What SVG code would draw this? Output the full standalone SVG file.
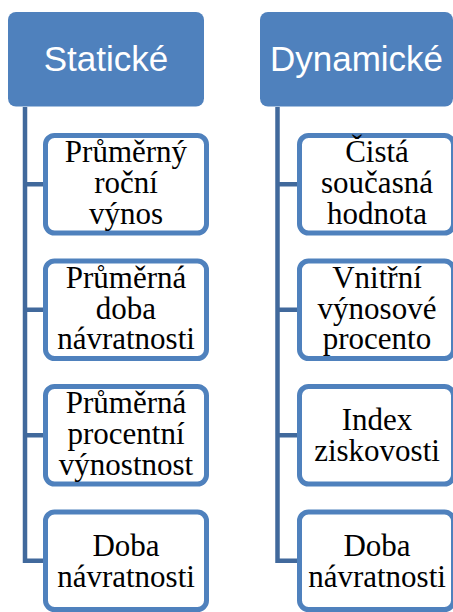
<svg xmlns="http://www.w3.org/2000/svg" width="453" height="612" viewBox="0 0 453 612">
<style>
.hdr{fill:#4F81BD;}
.hdrt{fill:#FFFFFF;font-family:"Liberation Sans",Arial,sans-serif;font-size:35px;text-anchor:middle;}
.box{fill:#FFFFFF;stroke:#4F81BD;stroke-width:5;}
.bt{fill:#000000;font-family:'Liberation Serif','DejaVu Serif',serif;font-size:31px;font-weight:normal;text-anchor:middle;}
.con{fill:none;stroke:#41699C;stroke-width:4.5;stroke-linejoin:miter;}
</style>
<g id="connectors">
<path class="con" d="M25 107 V560.75 H46 M25 184.25 H46 M25 309.75 H46 M25 435.25 H46"/>
<path class="con" d="M277.5 107 V560.75 H299 M277.5 184.25 H299 M277.5 309.75 H299 M277.5 435.25 H299"/>
</g>
<g id="staticke">
<rect class="hdr" x="8" y="12" width="196" height="94.5" rx="8"/>
<text class="hdrt" x="106" y="70.5">Statické</text>
</g>
<g id="dynamicke">
<rect class="hdr" x="260" y="12" width="193" height="94.5" rx="8"/>
<text class="hdrt" x="356.5" y="70.5">Dynamické</text>
</g>
<g id="s1">
<rect class="box" x="45.5" y="135.5" width="161" height="97.5" rx="9"/>
<text class="bt" x="126" y="162"><tspan x="126">Průměrný</tspan><tspan x="126" y="193">roční</tspan><tspan x="126" y="223.5">výnos</tspan></text>
</g>
<g id="s2">
<rect class="box" x="45.5" y="261" width="161" height="97.5" rx="9"/>
<text class="bt" x="126" y="287.5"><tspan x="126">Průměrná</tspan><tspan x="126" y="318.5">doba</tspan><tspan x="126" y="349">návratnosti</tspan></text>
</g>
<g id="s3">
<rect class="box" x="45.5" y="386.5" width="161" height="97.5" rx="9"/>
<text class="bt" x="126" y="413"><tspan x="126">Průměrná</tspan><tspan x="126" y="444">procentní</tspan><tspan x="126" y="474.5">výnostnost</tspan></text>
</g>
<g id="s4">
<rect class="box" x="45.5" y="512" width="161" height="97.5" rx="9"/>
<text class="bt" x="126" y="555.5"><tspan x="126">Doba</tspan><tspan x="126" y="586.5">návratnosti</tspan></text>
</g>
<g id="d1">
<rect class="box" x="299.5" y="135.5" width="154" height="97.5" rx="9"/>
<text class="bt" x="377" y="162"><tspan x="377">Čistá</tspan><tspan x="377" y="193">současná</tspan><tspan x="377" y="223.5">hodnota</tspan></text>
</g>
<g id="d2">
<rect class="box" x="299.5" y="261" width="154" height="97.5" rx="9"/>
<text class="bt" x="377" y="287.5"><tspan x="377">Vnitřní</tspan><tspan x="377" y="318.5">výnosové</tspan><tspan x="377" y="349">procento</tspan></text>
</g>
<g id="d3">
<rect class="box" x="299.5" y="386.5" width="154" height="97.5" rx="9"/>
<text class="bt" x="377" y="430"><tspan x="377">Index</tspan><tspan x="377" y="461">ziskovosti</tspan></text>
</g>
<g id="d4">
<rect class="box" x="299.5" y="512" width="154" height="97.5" rx="9"/>
<text class="bt" x="377" y="555.5"><tspan x="377">Doba</tspan><tspan x="377" y="586.5">návratnosti</tspan></text>
</g>
</svg>
